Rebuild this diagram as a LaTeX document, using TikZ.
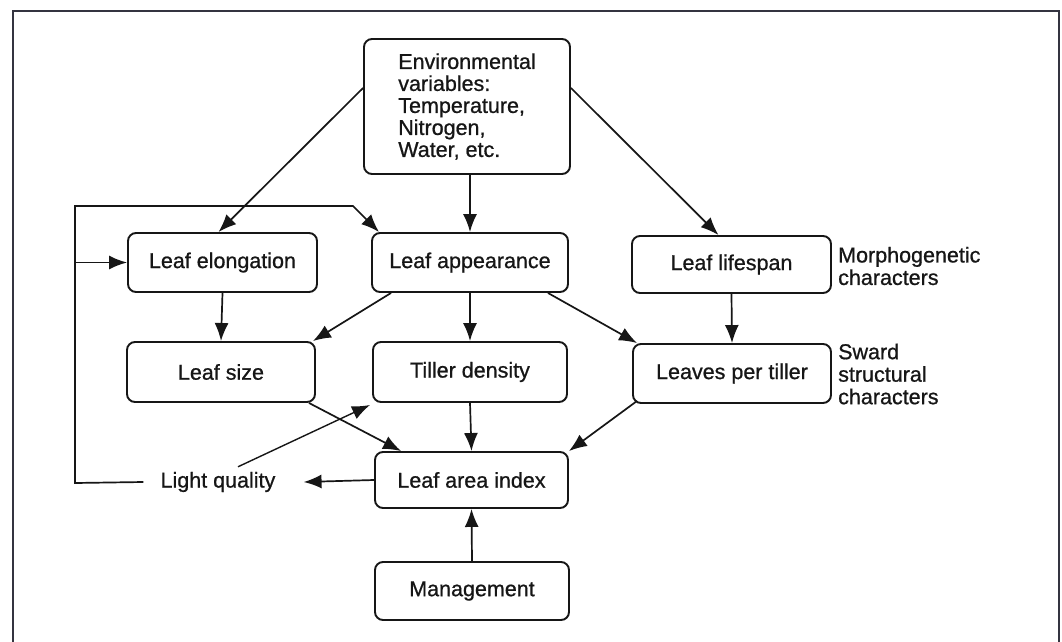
\documentclass[tikz,border=0pt]{standalone}
\usepackage{fontspec}
\setmainfont{Liberation Sans}[FakeBold=0.8]
\usetikzlibrary{arrows.meta}
\definecolor{framec}{RGB}{52,52,64}
\definecolor{inkc}{RGB}{22,22,22}
\tikzset{
  box/.style={draw=inkc, line width=1.9pt, rounded corners=8pt, fill=white,
    font=\fontsize{21.5}{22}\selectfont, text=inkc, inner sep=2pt},
  lbl/.style={font=\fontsize{21.5}{22.5}\selectfont, text=inkc, inner sep=2pt, align=left},
  tip/.style={-{Latex[length=18pt,width=14pt]}},
  ln/.style={draw=inkc, line width=1.7pt},
  arr/.style={ln, tip},
}
\begin{document}
\begin{tikzpicture}[x=1pt,y=-1pt]
\useasboundingbox (0,0) rectangle (1062,642);
\fill[white] (0,0) rectangle (1062,642);
% frame
\draw[framec, line width=2.6pt] (13,650) -- (13,11) -- (1059,11) -- (1059,650);

% boxes
\node[box, minimum width=206pt, minimum height=135pt, align=left] (env) at (467,106.5)
  {Environmental\\variables:\\Temperature,\\Nitrogen,\\Water, etc.};
\node[box, minimum width=189pt, minimum height=59pt] (elong) at (222.5,262.5) {Leaf elongation};
\node[box, minimum width=196pt, minimum height=59pt] (appear) at (470,262.5) {Leaf appearance};
\node[box, minimum width=199pt, minimum height=57pt] (life) at (731.5,264.5) {Leaf lifespan};
\node[box, minimum width=188pt, minimum height=60pt] (size) at (221,372) {Leaf size};
\node[box, minimum width=194pt, minimum height=60pt] (tiller) at (470,372) {Tiller density};
\node[box, minimum width=198pt, minimum height=59pt] (leaves) at (732,373.5) {Leaves per tiller};
\node[box, minimum width=193pt, minimum height=56pt] (lai) at (471.5,480) {Leaf area index};
\node[box, minimum width=194pt, minimum height=58pt] (mgmt) at (472,591) {Management};

% side labels
\node[lbl, anchor=west] (morph) at (836,266) {Morphogenetic\\characters};
\node[lbl, anchor=west] (sward) at (836,374) {Sward\\structural\\characters};
\node[lbl] (lq) at (218,482) {Light quality};

% feedback coordinates
\coordinate (fbtop) at (75,206);
\coordinate (fbbend) at (353,206);
\coordinate (fbbot) at (75,483);

% connectors
\draw[arr] ([yshift=18.5pt]env.west) -- ([xshift=-4pt]elong.north);
\draw[arr] (appear.north |- env.south) -- (appear.north);
\draw[arr] ([yshift=18.5pt]env.east) -- ([xshift=-13pt]life.north);

\draw[arr] (elong.south) -- (size.north);
\draw[arr] ([xshift=20pt]appear.south west) -- ([xshift=-3pt]size.north east);
\draw[arr] (appear.south) -- (tiller.north);
\draw[arr] ([xshift=-21pt]appear.south east) -- ([xshift=5pt]leaves.north west);
\draw[arr] (life.south) -- (leaves.north);

\draw[arr] ([xshift=-7pt]size.south east) -- ([xshift=27pt]lai.north west);
\draw[arr] (tiller.south) -- (lai.north);
\draw[arr] ([xshift=5pt,yshift=3pt]leaves.south west) -- (lai.north east);
\draw[arr] (mgmt.north) -- (lai.south);

\draw[arr] (lai.west) -- ([xshift=26pt]lq.east);
\draw[arr, line width=1.4pt] ([xshift=20pt,yshift=3pt]lq.north) -- ([xshift=-2pt,yshift=-2pt]tiller.south west);

% feedback loop
\draw[arr] ([xshift=-15pt]lq.west) -- (fbbot) -- (fbtop) -- (fbbend) -- ([xshift=8pt]appear.north west);
\draw[arr] (fbtop |- elong.west) -- (elong.west);
\end{tikzpicture}
\end{document}
